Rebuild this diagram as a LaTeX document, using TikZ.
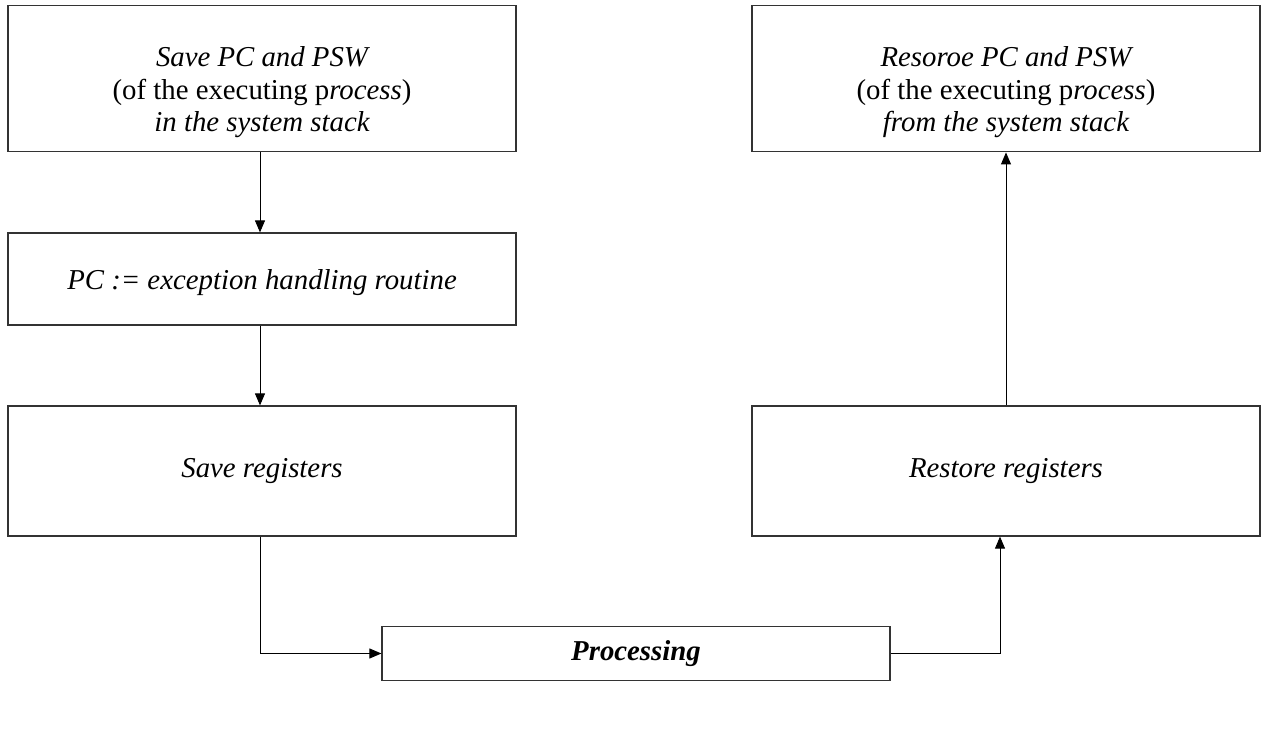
\documentclass[tikz,border=0pt]{standalone}
\usepackage{fontspec}
\setmainfont{Liberation Serif}
\usetikzlibrary{arrows.meta}

\begin{document}
\begin{tikzpicture}[
  x=0.75pt, y=-0.75pt,
  box/.style={draw=black!80, line width=0.9pt, align=center, minimum width=381pt, inner sep=0pt,
    font=\fontsize{21.6}{24.4}\selectfont\itshape},
  arr/.style={-{Triangle[length=9pt, width=7.5pt]}, line width=0.7pt}
]
\useasboundingbox (0,0) rectangle (1278,735);
% left column
\node[box, minimum height=110pt] (savepc) at (262,78.5) {\rule{0pt}{36pt}Save PC and PSW\\\upshape(of the executing p\itshape rocess\upshape)\\in the system stack};
\node[box, minimum height=69pt] (pcset) at (262,279) {\rule{0pt}{21pt}PC := exception handling routine};
\node[box, minimum height=97.5pt] (savereg) at (262,471) {Save registers};
% right column
\node[box, minimum height=110pt] (restpc) at (1006,78.5) {\rule{0pt}{36pt}Resoroe PC and PSW\\\upshape(of the executing p\itshape rocess\upshape)\\from the system stack};
\node[box, minimum height=97.5pt] (restreg) at (1006,471) {Restore registers};
% bottom
\node[box, minimum height=41pt, font=\fontsize{21.6}{24.4}\selectfont\bfseries\itshape] (proc) at (636,653.5) {Processing};

\draw[arr] (savepc.south -| 260,0) -- (pcset.north -| 260,0);
\draw[arr] (pcset.south -| 260,0) -- (savereg.north -| 260,0);
\draw[arr] (savereg.south -| 260,0) |- (proc.west);
\draw[arr] (proc.east) -| (restreg.south -| 1000,0);
\draw[arr] (restreg.north) -- (restpc.south);
\end{tikzpicture}
\end{document}
